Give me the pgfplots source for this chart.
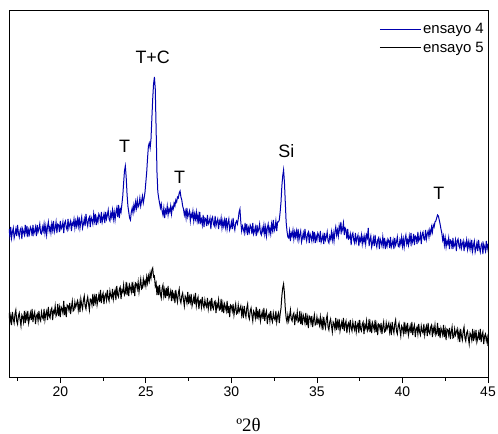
\documentclass[border=0pt]{standalone}
\usepackage{fontspec}
\setmainfont{Liberation Sans}
\newfontfamily\serifx{Liberation Serif}
\usepackage{pgfplots}
\pgfplotsset{compat=1.18}
\definecolor{e4}{RGB}{0,0,175}
\definecolor{e4l}{RGB}{20,20,210}
\begin{document}
\begin{tikzpicture}
\useasboundingbox (-9bp,-57bp) rectangle (489bp,377bp);
\begin{axis}[
  at={(0,0)}, anchor=south west,
  scale only axis, width=479bp, height=367bp,
  xmin=17, xmax=45, ymin=57, ymax=424,
  xtick={20,25,...,45}, minor xtick={17.5,22.5,...,42.5},
  ytick=\empty,
  xtick pos=left, tick align=outside,
  major tick length=6bp, minor tick length=3.5bp,
  axis line style={line width=0.8bp},
  every tick/.style={black, line width=0.8bp},
  tick label style={font=\fontsize{14}{14}\selectfont},
  /pgf/number format/assume math mode=true,
  xlabel={º2θ},
  xlabel style={at={(axis description cs:0.5,0)}, anchor=base, yshift=-54bp, font=\serifx\fontsize{19}{19}\selectfont},
  legend style={draw=none, fill=none, at={(axis description cs:1,1)}, anchor=north east,
    yshift=-8bp, font=\fontsize{15}{15}\selectfont, row sep=3bp, inner xsep=2bp, inner ysep=3bp},
  legend cell align=left,
  legend image code/.code={\draw[#1, line width=0.7bp] (0bp,0bp) -- (41bp,0bp);},
]
\addplot[color=e4, line width=1bp] coordinates {
(17.00,205)(17.05,198)(17.10,207)(17.15,196)(17.20,202)(17.25,206)(17.30,196)(17.35,200)(17.40,205)(17.45,198)
(17.50,209)(17.55,201)(17.60,197)(17.65,204)(17.70,206)(17.75,195)(17.80,205)(17.85,202)(17.90,199)(17.95,209)
(18.00,201)(18.05,208)(18.10,197)(18.15,204)(18.20,200)(18.25,207)(18.30,205)(18.35,198)(18.40,209)(18.45,200)
(18.50,203)(18.55,207)(18.60,198)(18.65,209)(18.70,202)(18.75,205)(18.80,210)(18.85,201)(18.90,200)(18.95,207)
(19.00,203)(19.05,210)(19.10,201)(19.15,208)(19.20,199)(19.25,207)(19.30,212)(19.35,203)(19.40,207)(19.45,201)
(19.50,210)(19.55,204)(19.60,213)(19.65,202)(19.70,206)(19.75,212)(19.80,201)(19.85,210)(19.90,209)(19.95,202)
(20.00,213)(20.05,205)(20.10,207)(20.15,212)(20.20,201)(20.25,211)(20.30,213)(20.35,206)(20.40,204)(20.45,215)
(20.50,206)(20.55,210)(20.60,213)(20.65,203)(20.70,211)(20.75,209)(20.80,215)(20.85,206)(20.90,213)(20.95,208)
(21.00,215)(21.05,208)(21.10,217)(21.15,206)(21.20,212)(21.25,217)(21.30,206)(21.35,210)(21.40,215)(21.45,208)
(21.50,220)(21.55,212)(21.60,208)(21.65,215)(21.70,217)(21.75,207)(21.80,217)(21.85,214)(21.90,210)(21.95,220)
(22.00,213)(22.05,220)(22.10,209)(22.15,216)(22.20,212)(22.25,220)(22.30,218)(22.35,211)(22.40,222)(22.45,212)
(22.50,216)(22.55,220)(22.60,211)(22.65,222)(22.70,215)(22.75,219)(22.80,224)(22.85,215)(22.90,213)(22.95,221)
(23.00,217)(23.05,224)(23.10,215)(23.15,222)(23.20,214)(23.25,222)(23.30,226)(23.35,217)(23.40,229)(23.45,216)
(23.50,225)(23.55,222)(23.60,230)(23.65,238)(23.70,251)(23.75,263)(23.80,268)(23.85,257)(23.90,240)(23.95,228)
(24.00,222)(24.05,216)(24.10,214)(24.15,222)(24.20,226)(24.25,221)(24.30,229)(24.35,224)(24.40,232)(24.45,226)
(24.50,234)(24.55,227)(24.60,229)(24.65,236)(24.70,228)(24.75,233)(24.80,238)(24.85,231)(24.90,236)(24.95,242)
(25.00,252)(25.05,262)(25.10,276)(25.15,288)(25.20,291)(25.25,286)(25.30,295)(25.35,315)(25.40,335)(25.45,350)
(25.50,357)(25.55,345)(25.60,305)(25.65,262)(25.70,242)(25.75,236)(25.80,231)(25.85,226)(25.90,230)(25.95,223)
(26.00,219)(26.05,226)(26.10,216)(26.15,224)(26.20,221)(26.25,228)(26.30,219)(26.35,225)(26.40,222)(26.45,228)
(26.50,220)(26.55,227)(26.60,225)(26.65,231)(26.70,228)(26.75,234)(26.80,232)(26.85,237)(26.90,236)(26.95,241)
(27.00,243)(27.05,237)(27.10,234)(27.15,228)(27.20,225)(27.25,219)(27.30,223)(27.35,216)(27.40,226)(27.45,217)
(27.50,220)(27.55,223)(27.60,213)(27.65,220)(27.70,217)(27.75,223)(27.80,213)(27.85,220)(27.90,215)(27.95,222)
(28.00,213)(28.05,219)(28.10,210)(28.15,222)(28.20,212)(28.25,215)(28.30,209)(28.35,219)(28.40,207)(28.45,216)
(28.50,215)(28.55,208)(28.60,219)(28.65,210)(28.70,212)(28.75,216)(28.80,205)(28.85,215)(28.90,217)(28.95,210)
(29.00,208)(29.05,218)(29.10,208)(29.15,212)(29.20,215)(29.25,205)(29.30,213)(29.35,210)(29.40,216)(29.45,206)
(29.50,213)(29.55,208)(29.60,214)(29.65,207)(29.70,216)(29.75,205)(29.80,211)(29.85,215)(29.90,204)(29.95,207)
(30.00,212)(30.05,205)(30.10,216)(30.15,208)(30.20,204)(30.25,211)(30.30,213)(30.35,210)(30.40,215)(30.45,222)
(30.50,225)(30.55,212)(30.60,203)(30.65,208)(30.70,205)(30.75,201)(30.80,211)(30.85,203)(30.90,210)(30.95,199)
(31.00,206)(31.05,202)(31.10,209)(31.15,207)(31.20,200)(31.25,211)(31.30,200)(31.35,203)(31.40,207)(31.45,198)
(31.50,209)(31.55,202)(31.60,205)(31.65,210)(31.70,201)(31.75,199)(31.80,206)(31.85,202)(31.90,209)(31.95,200)
(32.00,207)(32.05,198)(32.10,206)(32.15,210)(32.20,201)(32.25,206)(32.30,200)(32.35,210)(32.40,204)(32.45,214)
(32.50,203)(32.55,206)(32.60,213)(32.65,203)(32.70,212)(32.75,212)(32.80,214)(32.85,222)(32.90,232)(32.95,248)
(33.00,258)(33.05,264)(33.10,252)(33.15,232)(33.20,212)(33.25,203)(33.30,197)(33.35,196)(33.40,203)(33.45,193)
(33.50,201)(33.55,198)(33.60,204)(33.65,195)(33.70,202)(33.75,197)(33.80,203)(33.85,196)(33.90,205)(33.95,194)
(34.00,199)(34.05,203)(34.10,192)(34.15,196)(34.20,201)(34.25,194)(34.30,205)(34.35,197)(34.40,193)(34.45,200)
(34.50,202)(34.55,191)(34.60,200)(34.65,197)(34.70,193)(34.75,203)(34.80,195)(34.85,202)(34.90,191)(34.95,198)
(35.00,194)(35.05,201)(35.10,199)(35.15,192)(35.20,203)(35.25,192)(35.30,195)(35.35,199)(35.40,190)(35.45,201)
(35.50,194)(35.55,197)(35.60,202)(35.65,193)(35.70,191)(35.75,198)(35.80,195)(35.85,202)(35.90,194)(35.95,201)
(36.00,193)(36.05,202)(36.10,207)(36.15,199)(36.20,204)(36.25,198)(36.30,208)(36.35,203)(36.40,212)(36.45,202)
(36.50,205)(36.55,211)(36.60,199)(36.65,206)(36.70,204)(36.75,195)(36.80,205)(36.85,195)(36.90,196)(36.95,200)
(37.00,189)(37.05,199)(37.10,201)(37.15,194)(37.20,191)(37.25,201)(37.30,192)(37.35,196)(37.40,199)(37.45,188)
(37.50,196)(37.55,193)(37.60,199)(37.65,190)(37.70,197)(37.75,192)(37.80,198)(37.85,190)(37.90,199)(37.95,196)
(38.00,206)(38.05,188)(38.10,194)(38.15,198)(38.20,187)(38.25,191)(38.30,196)(38.35,188)(38.40,199)(38.45,191)
(38.50,187)(38.55,194)(38.60,196)(38.65,185)(38.70,195)(38.75,192)(38.80,188)(38.85,197)(38.90,189)(38.95,196)
(39.00,185)(39.05,192)(39.10,188)(39.15,195)(39.20,193)(39.25,186)(39.30,197)(39.35,187)(39.40,190)(39.45,194)
(39.50,185)(39.55,196)(39.60,189)(39.65,192)(39.70,197)(39.75,188)(39.80,187)(39.85,194)(39.90,190)(39.95,197)
(40.00,188)(40.05,195)(40.10,187)(40.15,195)(40.20,199)(40.25,190)(40.30,194)(40.35,189)(40.40,198)(40.45,192)
(40.50,201)(40.55,190)(40.60,193)(40.65,200)(40.70,189)(40.75,198)(40.80,197)(40.85,190)(40.90,202)(40.95,193)
(41.00,195)(41.05,200)(41.10,190)(41.15,200)(41.20,202)(41.25,195)(41.30,194)(41.35,204)(41.40,195)(41.45,200)
(41.50,203)(41.55,197)(41.60,204)(41.65,200)(41.70,207)(41.75,202)(41.80,209)(41.85,207)(41.90,212)(41.95,213)
(42.00,216)(42.05,219)(42.10,218)(42.15,214)(42.20,210)(42.25,205)(42.30,201)(42.35,194)(42.40,198)(42.45,189)
(42.50,196)(42.55,187)(42.60,193)(42.65,190)(42.70,196)(42.75,185)(42.80,194)(42.85,193)(42.90,185)(42.95,196)
(43.00,187)(43.05,189)(43.10,194)(43.15,183)(43.20,193)(43.25,195)(43.30,188)(43.35,186)(43.40,195)(43.45,186)
(43.50,190)(43.55,193)(43.60,183)(43.65,191)(43.70,188)(43.75,194)(43.80,185)(43.85,192)(43.90,186)(43.95,192)
(44.00,185)(44.05,194)(44.10,183)(44.15,189)(44.20,193)(44.25,182)(44.30,186)(44.35,191)(44.40,183)(44.45,194)
(44.50,186)(44.55,182)(44.60,189)(44.65,191)(44.70,180)(44.75,190)(44.80,187)(44.85,183)(44.90,193)(44.95,185)
(45.00,190)
};
\addlegendentry{ensayo 4}
\addplot[color=black, line width=1bp] coordinates {
(17.00,121)(17.05,112)(17.10,118)(17.15,109)(17.20,122)(17.25,115)(17.30,111)(17.35,120)(17.40,124)(17.45,113)
(17.50,110)(17.55,118)(17.60,121)(17.65,114)(17.70,108)(17.75,119)(17.80,117)(17.85,112)(17.90,123)(17.95,111)
(18.00,120)(18.05,115)(18.10,123)(18.15,111)(18.20,116)(18.25,121)(18.30,114)(18.35,125)(18.40,112)(18.45,119)
(18.50,122)(18.55,110)(18.60,118)(18.65,120)(18.70,113)(18.75,123)(18.80,115)(18.85,113)(18.90,122)(18.95,117)
(19.00,115)(19.05,125)(19.10,114)(19.15,120)(19.20,123)(19.25,114)(19.30,127)(19.35,118)(19.40,116)(19.45,124)
(19.50,126)(19.55,114)(19.60,123)(19.65,121)(19.70,128)(19.75,118)(19.80,120)(19.85,130)(19.90,118)(19.95,126)
(20.00,117)(20.05,127)(20.10,125)(20.15,121)(20.20,133)(20.25,119)(20.30,127)(20.35,117)(20.40,129)(20.45,128)
(20.50,124)(20.55,131)(20.60,120)(20.65,127)(20.70,133)(20.75,123)(20.80,124)(20.85,132)(20.90,127)(20.95,130)
(21.00,133)(21.05,124)(21.10,131)(21.15,122)(21.20,135)(21.25,129)(21.30,125)(21.35,134)(21.40,138)(21.45,128)
(21.50,125)(21.55,133)(21.60,137)(21.65,130)(21.70,124)(21.75,135)(21.80,134)(21.85,129)(21.90,140)(21.95,128)
(22.00,137)(22.05,132)(22.10,140)(22.15,129)(22.20,134)(22.25,139)(22.30,132)(22.35,144)(22.40,131)(22.45,138)
(22.50,141)(22.55,130)(22.60,138)(22.65,140)(22.70,134)(22.75,144)(22.80,136)(22.85,133)(22.90,143)(22.95,138)
(23.00,136)(23.05,145)(23.10,135)(23.15,141)(23.20,144)(23.25,134)(23.30,148)(23.35,139)(23.40,137)(23.45,145)
(23.50,147)(23.55,135)(23.60,144)(23.65,142)(23.70,149)(23.75,139)(23.80,141)(23.85,152)(23.90,139)(23.95,147)
(24.00,138)(24.05,149)(24.10,146)(24.15,142)(24.20,152)(24.25,141)(24.30,148)(24.35,138)(24.40,151)(24.45,150)
(24.50,145)(24.55,152)(24.60,142)(24.65,149)(24.70,155)(24.75,145)(24.80,146)(24.85,155)(24.90,149)(24.95,153)
(25.00,148)(25.05,157)(25.10,151)(25.15,158)(25.20,153)(25.25,161)(25.30,156)(25.35,164)(25.40,166)(25.45,157)
(25.50,158)(25.55,148)(25.60,151)(25.65,139)(25.70,148)(25.75,139)(25.80,149)(25.85,140)(25.90,136)(25.95,146)
(26.00,149)(26.05,138)(26.10,144)(26.15,136)(26.20,146)(26.25,138)(26.30,148)(26.35,136)(26.40,139)(26.45,143)
(26.50,133)(26.55,144)(26.60,136)(26.65,140)(26.70,131)(26.75,144)(26.80,137)(26.85,132)(26.90,141)(26.95,145)
(27.00,134)(27.05,131)(27.10,138)(27.15,141)(27.20,134)(27.25,128)(27.30,138)(27.35,136)(27.40,131)(27.45,142)
(27.50,130)(27.55,137)(27.60,132)(27.65,140)(27.70,128)(27.75,132)(27.80,137)(27.85,130)(27.90,141)(27.95,128)
(28.00,134)(28.05,137)(28.10,125)(28.15,133)(28.20,134)(28.25,127)(28.30,137)(28.35,129)(28.40,126)(28.45,134)
(28.50,129)(28.55,127)(28.60,136)(28.65,125)(28.70,131)(28.75,133)(28.80,123)(28.85,136)(28.90,127)(28.95,125)
(29.00,132)(29.05,133)(29.10,121)(29.15,130)(29.20,127)(29.25,134)(29.30,124)(29.35,125)(29.40,135)(29.45,122)
(29.50,130)(29.55,121)(29.60,130)(29.65,127)(29.70,123)(29.75,133)(29.80,121)(29.85,128)(29.90,117)(29.95,129)
(30.00,128)(30.05,123)(30.10,130)(30.15,119)(30.20,125)(30.25,130)(30.30,120)(30.35,121)(30.40,129)(30.45,122)
(30.50,125)(30.55,128)(30.60,119)(30.65,125)(30.70,116)(30.75,128)(30.80,121)(30.85,117)(30.90,126)(30.95,130)
(31.00,118)(31.05,115)(31.10,123)(31.15,126)(31.20,119)(31.25,113)(31.30,123)(31.35,121)(31.40,116)(31.45,127)
(31.50,115)(31.55,122)(31.60,117)(31.65,125)(31.70,113)(31.75,118)(31.80,122)(31.85,115)(31.90,126)(31.95,113)
(32.00,120)(32.05,123)(32.10,110)(32.15,118)(32.20,120)(32.25,113)(32.30,123)(32.35,115)(32.40,112)(32.45,121)
(32.50,116)(32.55,114)(32.60,123)(32.65,112)(32.70,118)(32.75,121)(32.80,111)(32.85,120)(32.90,126)(32.95,138)
(33.00,146)(33.05,150)(33.10,141)(33.15,126)(33.20,116)(33.25,112)(33.30,119)(33.35,113)(33.40,118)(33.45,124)
(33.50,115)(33.55,113)(33.60,119)(33.65,121)(33.70,109)(33.75,118)(33.80,115)(33.85,122)(33.90,112)(33.95,113)
(34.00,123)(34.05,110)(34.10,118)(34.15,109)(34.20,119)(34.25,116)(34.30,111)(34.35,121)(34.40,109)(34.45,116)
(34.50,106)(34.55,118)(34.60,117)(34.65,111)(34.70,118)(34.75,107)(34.80,114)(34.85,119)(34.90,109)(34.95,110)
(35.00,117)(35.05,111)(35.10,114)(35.15,109)(35.20,117)(35.25,108)(35.30,114)(35.35,104)(35.40,117)(35.45,110)
(35.50,106)(35.55,115)(35.60,119)(35.65,107)(35.70,104)(35.75,112)(35.80,115)(35.85,108)(35.90,102)(35.95,112)
(36.00,110)(36.05,105)(36.10,116)(36.15,104)(36.20,112)(36.25,107)(36.30,115)(36.35,103)(36.40,108)(36.45,112)
(36.50,105)(36.55,116)(36.60,103)(36.65,110)(36.70,113)(36.75,101)(36.80,109)(36.85,111)(36.90,104)(36.95,114)
(37.00,106)(37.05,103)(37.10,112)(37.15,107)(37.20,104)(37.25,113)(37.30,102)(37.35,108)(37.40,111)(37.45,101)
(37.50,114)(37.55,105)(37.60,103)(37.65,110)(37.70,112)(37.75,100)(37.80,109)(37.85,106)(37.90,113)(37.95,103)
(38.00,105)(38.05,115)(38.10,102)(38.15,110)(38.20,101)(38.25,111)(38.30,108)(38.35,104)(38.40,114)(38.45,102)
(38.50,109)(38.55,99)(38.60,110)(38.65,109)(38.70,104)(38.75,111)(38.80,100)(38.85,107)(38.90,112)(38.95,102)
(39.00,103)(39.05,111)(39.10,105)(39.15,108)(39.20,111)(39.25,102)(39.30,108)(39.35,99)(39.40,112)(39.45,105)
(39.50,101)(39.55,110)(39.60,114)(39.65,103)(39.70,100)(39.75,108)(39.80,111)(39.85,104)(39.90,98)(39.95,108)
(40.00,106)(40.05,101)(40.10,112)(40.15,100)(40.20,108)(40.25,103)(40.30,111)(40.35,99)(40.40,104)(40.45,108)
(40.50,101)(40.55,112)(40.60,99)(40.65,106)(40.70,109)(40.75,97)(40.80,105)(40.85,107)(40.90,100)(40.95,110)
(41.00,102)(41.05,99)(41.10,108)(41.15,103)(41.20,101)(41.25,110)(41.30,99)(41.35,105)(41.40,108)(41.45,98)
(41.50,111)(41.55,102)(41.60,100)(41.65,107)(41.70,109)(41.75,97)(41.80,106)(41.85,102)(41.90,109)(41.95,99)
(42.00,101)(42.05,111)(42.10,98)(42.15,106)(42.20,96)(42.25,106)(42.30,103)(42.35,99)(42.40,109)(42.45,97)
(42.50,104)(42.55,94)(42.60,105)(42.65,104)(42.70,99)(42.75,106)(42.80,95)(42.85,102)(42.90,107)(42.95,96)
(43.00,97)(43.05,105)(43.10,99)(43.15,102)(43.20,105)(43.25,96)(43.30,102)(43.35,92)(43.40,105)(43.45,98)
(43.50,94)(43.55,103)(43.60,107)(43.65,96)(43.70,93)(43.75,101)(43.80,103)(43.85,96)(43.90,90)(43.95,101)
(44.00,99)(44.05,94)(44.10,105)(44.15,93)(44.20,101)(44.25,96)(44.30,104)(44.35,92)(44.40,96)(44.45,101)
(44.50,94)(44.55,105)(44.60,92)(44.65,99)(44.70,102)(44.75,90)(44.80,98)(44.85,100)(44.90,93)(44.95,97)
(45.00,88)
};
\addlegendentry{ensayo 5}
\node[font=\fontsize{18}{18}\selectfont] at (axis cs:23.76,288) {T};
\node[font=\fontsize{18}{18}\selectfont] at (axis cs:25.40,377) {T+C};
\node[font=\fontsize{18}{18}\selectfont] at (axis cs:26.97,257) {T};
\node[font=\fontsize{18}{18}\selectfont] at (axis cs:33.21,283) {Si};
\node[font=\fontsize{18}{18}\selectfont] at (axis cs:42.13,241) {T};
\end{axis}
\end{tikzpicture}
\end{document}
